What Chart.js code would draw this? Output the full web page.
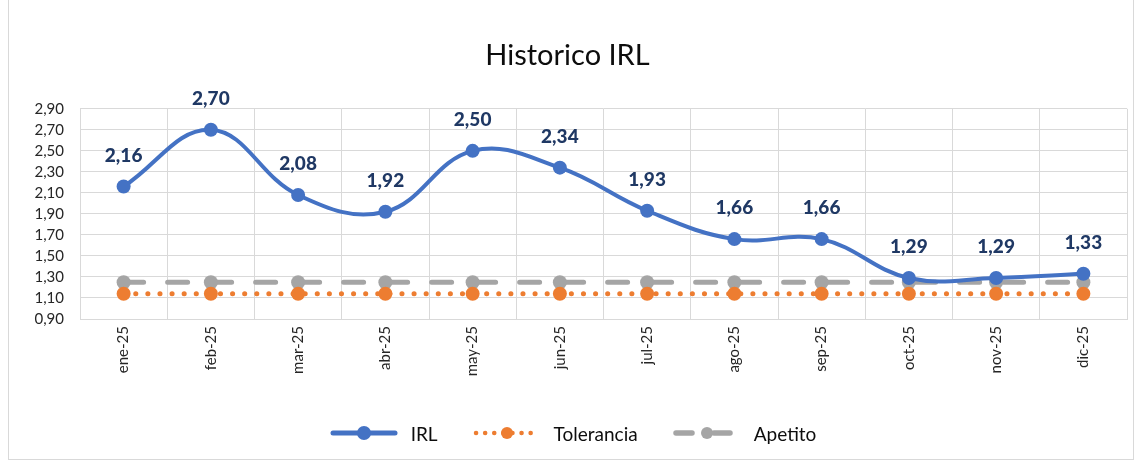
<!DOCTYPE html>
<html>
<head>
<meta charset="utf-8">
<script src="https://cdn.jsdelivr.net/npm/chart.js@4.4.1/dist/chart.umd.min.js"></script>
<style>
  html, body { margin: 0; padding: 0; background: #fff; }
  #frame { position: absolute; left: 8px; top: -2px; width: 1126px; height: 462px; border: 1px solid #d9d9d9; box-sizing: border-box; }
  #wrap { position: absolute; left: 0; top: 0; width: 1145px; height: 463px; }
  #legend { position: absolute; left: 0; width: 1145px; top: 421px; height: 24px; display: flex; justify-content: center; align-items: center; gap: 34px;
            font: 19px Lato, 'Open Sans', sans-serif; color: #0d0d0d; }
  #legend .key { display: flex; align-items: center; }
  #legend canvas { margin-right: 12px; }
</style>
</head>
<body>
<div id="frame"></div>
<div id="wrap"><canvas id="c" width="1145" height="463"></canvas></div>
<div id="legend"></div>
<script>
  var MONTHS = ["ene-25", "feb-25", "mar-25", "abr-25", "may-25", "jun-25", "jul-25", "ago-25", "sep-25", "oct-25", "nov-25", "dic-25"];
  var IRL = [2.16, 2.70, 2.08, 1.92, 2.50, 2.34, 1.93, 1.66, 1.66, 1.29, 1.29, 1.33];
  var TOLERANCIA = [1.14, 1.14, 1.14, 1.14, 1.14, 1.14, 1.14, 1.14, 1.14, 1.14, 1.14, 1.14];
  var APETITO = [1.25, 1.25, 1.25, 1.25, 1.25, 1.25, 1.25, 1.25, 1.25, 1.25, 1.25, 1.25];

  var BLUE = "#4472c4", ORANGE = "#ed7d31", GRAY = "#a5a5a5", NAVY = "#1f3864";
  var FONT = "Lato, 'Open Sans', sans-serif";

  function fmt(v) { return v.toFixed(2).replace(".", ","); }

  // small line + marker sample for the legend
  function sample(color, dash, width, r) {
    var cv = document.createElement("canvas");
    cv.width = 70; cv.height = 18;
    var g = cv.getContext("2d");
    g.strokeStyle = color; g.fillStyle = color;
    g.lineWidth = width; g.lineCap = "round";
    g.setLineDash(dash);
    g.beginPath(); g.moveTo(4, 9); g.lineTo(66, 9); g.stroke();
    g.setLineDash([]);
    g.beginPath(); g.arc(35, 9, r, 0, Math.PI * 2); g.fill();
    return cv;
  }

  function buildLegend(labels, samples) {
    var box = document.getElementById("legend");
    labels.forEach(function (l, i) {
      var key = document.createElement("span");
      key.className = "key";
      key.appendChild(samples[i]);
      key.appendChild(document.createTextNode(l));
      box.appendChild(key);
    });
  }

  var valueLabels = {
    id: "valueLabels",
    afterDatasetsDraw: function (chart) {
      var meta = chart.getDatasetMeta(0), ctx = chart.ctx;
      ctx.save();
      ctx.font = "900 19px " + FONT;
      ctx.fillStyle = NAVY;
      ctx.textAlign = "center";
      ctx.textBaseline = "middle";
      meta.data.forEach(function (p, i) {
        ctx.fillText(fmt(IRL[i]), p.x, p.y - 31);
      });
      ctx.restore();
    }
  };

  Chart.defaults.font.family = FONT;
  Chart.defaults.color = "#262626";

  var chart = new Chart(document.getElementById("c"), {
    type: "line",
    data: {
      labels: MONTHS,
      datasets: [{
        label: "IRL",
        data: IRL,
        borderColor: BLUE, backgroundColor: BLUE,
        borderWidth: 4, pointRadius: 7, pointBorderWidth: 0,
        tension: 0.4
      }, {
        label: "Tolerancia",
        data: TOLERANCIA,
        borderColor: ORANGE, backgroundColor: ORANGE,
        borderWidth: 5, borderDash: [0.1, 12], borderCapStyle: "round",
        pointRadius: 7, pointBorderWidth: 0
      }, {
        label: "Apetito",
        data: APETITO,
        borderColor: GRAY, backgroundColor: GRAY,
        borderWidth: 5, borderDash: [20, 24], borderCapStyle: "round",
        pointRadius: 7, pointBorderWidth: 0
      }]
    },
    options: {
      responsive: false, animation: false,
      layout: { padding: { left: 8, right: 18, top: 6, bottom: 84 } },
      plugins: {
        title: {
          display: true, text: "Historico IRL", color: "#0d0d0d",
          font: { size: 29, weight: "normal", family: FONT },
          padding: { top: 32, bottom: 36 }
        },
        legend: { display: false },
        tooltip: { enabled: false }
      },
      scales: {
        x: {
          offset: true,
          grid: { color: "#d9d9d9", offset: true, drawTicks: false },
          border: { color: "#d9d9d9" },
          ticks: { maxRotation: 90, minRotation: 90, padding: 7, font: { size: 15 }, color: "#262626" },
          afterFit: function (s) { s.height = 60; }
        },
        y: {
          min: 0.9, max: 2.9,
          grid: { color: "#d9d9d9", drawTicks: false },
          border: { display: false },
          ticks: { stepSize: 0.2, autoSkip: false, padding: 16, font: { size: 15 }, color: "#262626",
                   callback: function (v) { return fmt(v); } },
          afterFit: function (s) { s.width = 72; }
        }
      }
    },
    plugins: [valueLabels]
  });

  buildLegend(chart.data.datasets.map(function (d) { return d.label; }),
    [sample(BLUE, [], 5, 7), sample(ORANGE, [0.1, 9], 4.5, 6), sample(GRAY, [16, 22], 5.5, 6)]);
</script>
</body>
</html>
